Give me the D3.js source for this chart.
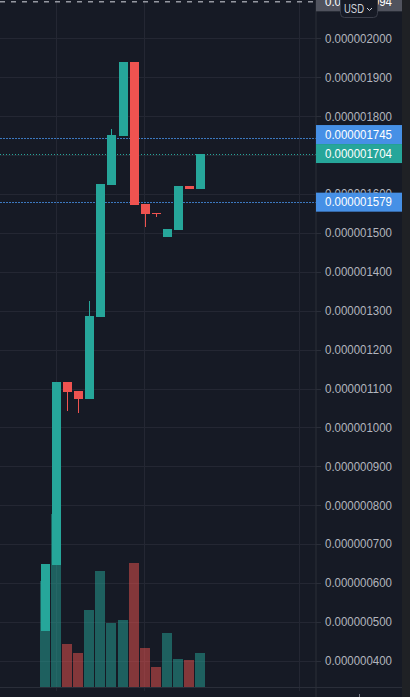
<!DOCTYPE html>
<html><head><meta charset="utf-8">
<script src="https://cdn.jsdelivr.net/npm/d3@7"></script>
<style>
html,body{margin:0;padding:0;background:#161a25;overflow:hidden;}
svg{display:block;}
</style></head><body>
<svg id="c" width="410" height="697"></svg>
<script>
// ---- data ----
const candleIndex = [0,1,2,3,4,5,6,7,8,9,10,11,12,13,14];
const opens  = [4.766e-7, 6.463e-7, 1.1167e-6, 1.0936e-6, 1.0730e-6, 1.2839e-6, 1.6231e-6, 1.7491e-6, 1.9393e-6, 1.5743e-6, 1.5511e-6, 1.4895e-6, 1.5074e-6, 1.6206e-6, 1.6129e-6];
const highs  = [6.488e-7, 1.1167e-6, 1.1167e-6, 1.0936e-6, 1.3249e-6, 1.6257e-6, 1.7671e-6, 1.9393e-6, 1.9393e-6, 1.5743e-6, 1.5511e-6, 1.5100e-6, 1.6206e-6, 1.6206e-6, 1.7040e-6];
const lows   = [4.766e-7, 6.463e-7, 1.0422e-6, 1.0370e-6, 1.0730e-6, 1.2839e-6, 1.6231e-6, 1.7491e-6, 1.5717e-6, 1.5152e-6, 1.5409e-6, 1.4895e-6, 1.5074e-6, 1.6129e-6, 1.6129e-6];
const closes = [6.488e-7, 1.1167e-6, 1.0910e-6, 1.0730e-6, 1.2864e-6, 1.6257e-6, 1.7517e-6, 1.9393e-6, 1.5717e-6, 1.5486e-6, 1.5486e-6, 1.5100e-6, 1.6206e-6, 1.6129e-6, 1.7040e-6];
const volumes = [10.6, 17.3, 4.3, 3.4, 7.7, 11.6, 6.4, 6.7, 12.4, 3.9, 2.0, 5.4, 2.8, 2.7, 3.4];
const priceTicks = [2.0e-6,1.9e-6,1.8e-6,1.7e-6,1.6e-6,1.5e-6,1.4e-6,1.3e-6,1.2e-6,1.1e-6,1.0e-6,9e-7,8e-7,7e-7,6e-7,5e-7,4e-7];
const alertLines = [1.745e-6, 1.579e-6];
const topLine = 2.094e-6;
const timeGridIndex = [1, 9, 23];
const currencyLabel = "USD";

// ---- layout ----
const W = 410, H = 697;
const plotRight = 316, scaleRight = 402, axisY = 687;
const C = {bg:"#161a25", grid:"#242733", border:"#2a2e39", text:"#b2b5be",
  up:"#26a69a", down:"#ef5350", upVol:"rgba(38,166,154,0.5)", downVol:"rgba(239,83,80,0.5)",
  blue:"#4690e6", gray:"#50535e"};
const FONT = "'Liberation Sans', Arial, sans-serif";

const svg = d3.select("#c");
svg.append("rect").attr("width", W).attr("height", H).attr("fill", C.bg);

const x = d3.scaleLinear().domain([0, 14]).range([45.5, 200.5]);
const y = d3.scaleLinear().domain([4e-7, 2e-6]).range([660.8, 38.4]);
const yv = d3.scaleLinear().domain([0, d3.max(volumes)]).range([axisY, 514]);
const fmt = d3.format(".9f");
const px = v => Math.round(v) + 0.5;

// grid
const g = svg.append("g");
g.selectAll(".hg").data(priceTicks).join("line")
  .attr("x1", 0).attr("x2", plotRight + 5)
  .attr("y1", d => px(y(d))).attr("y2", d => px(y(d)))
  .attr("stroke", C.grid);
g.selectAll(".vg").data(timeGridIndex).join("line")
  .attr("x1", d => px(x(d)) - 1).attr("x2", d => px(x(d)) - 1)
  .attr("y1", 0).attr("y2", axisY + 4)
  .attr("stroke", C.grid);

// volumes
svg.append("g").selectAll("rect").data(candleIndex).join("rect")
  .attr("x", i => Math.round(x(i) - 5.5))
  .attr("width", 10)
  .attr("y", i => Math.round(yv(volumes[i])))
  .attr("height", i => axisY - Math.round(yv(volumes[i])))
  .attr("fill", i => closes[i] >= opens[i] ? C.upVol : C.downVol);

// price lines
svg.append("line").attr("x1", 0).attr("x2", plotRight)
  .attr("y1", y(topLine)).attr("y2", y(topLine))
  .attr("stroke", "#9598a1").attr("stroke-width", 1.5).attr("stroke-dasharray", "5,6");
svg.append("g").selectAll("line").data(alertLines).join("line")
  .attr("x1", 0).attr("x2", plotRight)
  .attr("y1", d => px(y(d))).attr("y2", d => px(y(d)))
  .attr("stroke", C.blue).attr("stroke-opacity", 0.8).attr("stroke-dasharray", "2,1");
const last = closes[closes.length - 1];
svg.append("line").attr("x1", 0).attr("x2", plotRight)
  .attr("y1", px(y(last))).attr("y2", px(y(last)))
  .attr("stroke", C.up).attr("stroke-dasharray", "1,2");

// candles
const cg = svg.append("g");
cg.selectAll("line").data(candleIndex).join("line")
  .attr("x1", i => Math.round(x(i) - 4.5) + 4.5)
  .attr("x2", i => Math.round(x(i) - 4.5) + 4.5)
  .attr("y1", i => Math.round(y(highs[i])))
  .attr("y2", i => Math.round(y(lows[i])))
  .attr("stroke", i => closes[i] >= opens[i] ? C.up : C.down);
cg.selectAll("rect").data(candleIndex).join("rect")
  .attr("x", i => Math.round(x(i) - 4.5))
  .attr("width", 9)
  .attr("y", i => Math.round(y(Math.max(opens[i], closes[i]))))
  .attr("height", i => Math.max(1, Math.round(y(Math.min(opens[i], closes[i]))) - Math.round(y(Math.max(opens[i], closes[i])))))
  .attr("fill", i => closes[i] >= opens[i] ? C.up : C.down);

// price scale
const sc = svg.append("g");
sc.append("rect").attr("x", plotRight).attr("y", 0).attr("width", scaleRight - plotRight).attr("height", H).attr("fill", C.bg);
sc.append("rect").attr("x", scaleRight).attr("y", 0).attr("width", W - scaleRight).attr("height", H).attr("fill", "#1f2125");
sc.selectAll(".tk").data(priceTicks).join("line")
  .attr("x1", plotRight).attr("x2", plotRight + 5)
  .attr("y1", d => px(y(d))).attr("y2", d => px(y(d)))
  .attr("stroke", C.border);
sc.selectAll("text").data(priceTicks).join("text")
  .attr("x", 325).attr("y", d => y(d)).attr("dy", "0.36em")
  .attr("fill", C.text).attr("font-family", FONT).attr("font-size", 12)
  .attr("textLength", 67).attr("lengthAdjust", "spacingAndGlyphs")
  .text(d => fmt(d));

// axis borders
svg.append("line").attr("x1", px(plotRight) - 0.5).attr("x2", px(plotRight) - 0.5).attr("y1", 0).attr("y2", H).attr("stroke", C.border);
svg.append("line").attr("x1", 0).attr("x2", scaleRight).attr("y1", axisY + 0.5).attr("y2", axisY + 0.5).attr("stroke", C.border);
svg.append("line").attr("x1", 359.5).attr("x2", 359.5).attr("y1", 694).attr("y2", H).attr("stroke", "#787b86");

// label boxes (last price fixed, others pushed away)
const boxH = 19;
const lastY = y(last);
const labels = alertLines.map(v => {
  let cy = y(v);
  if (Math.abs(cy - lastY) < boxH) cy = cy < lastY ? lastY - boxH : lastY + boxH;
  return {v, cy, fill: C.blue};
});
labels.push({v: last, cy: lastY, fill: C.up});
labels.push({v: topLine, cy: y(topLine), fill: C.gray});
const lb = svg.append("g").selectAll("g").data(labels).join("g");
lb.append("rect").attr("x", plotRight).attr("width", scaleRight - plotRight)
  .attr("y", d => d.cy - boxH / 2).attr("height", boxH).attr("fill", d => d.fill);
lb.append("text").attr("x", 325).attr("y", d => d.cy).attr("dy", "0.36em")
  .attr("fill", "#ffffff").attr("font-family", FONT).attr("font-size", 12)
  .attr("textLength", 67).attr("lengthAdjust", "spacingAndGlyphs")
  .text(d => fmt(d.v));

// currency button
const btn = svg.append("g");
btn.append("rect").attr("x", 340.5).attr("y", -4.5).attr("width", 37).attr("height", 22).attr("rx", 4)
  .attr("fill", C.bg).attr("stroke", "#3a3e4a");
btn.append("text").attr("x", 344).attr("y", 12.5).attr("fill", "#d1d4dc")
  .attr("font-family", FONT).attr("font-size", 12).attr("textLength", 20).attr("lengthAdjust", "spacingAndGlyphs")
  .text(currencyLabel);
btn.append("path").attr("d", "M367,8 l2.5,2.5 l2.5,-2.5").attr("fill", "none").attr("stroke", "#d1d4dc");
</script>
</body></html>
